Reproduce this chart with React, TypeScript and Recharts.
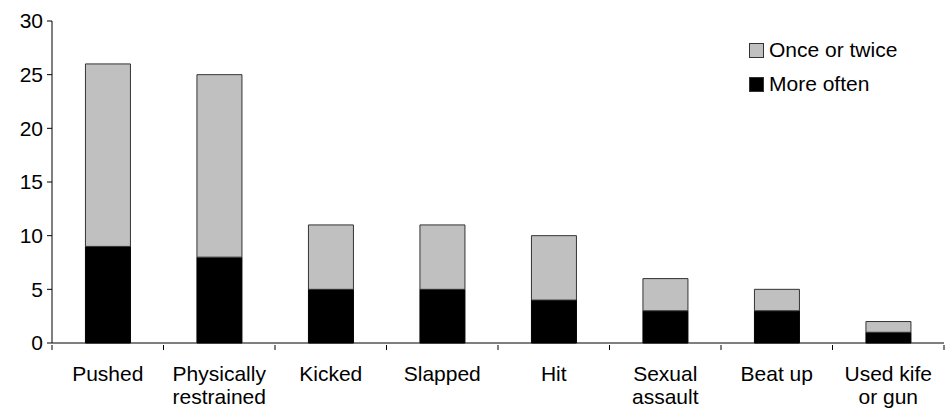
import React from "react";
import { BarChart, Bar, XAxis, YAxis } from "recharts";

const categories = [
  "Pushed",
  "Physically restrained",
  "Kicked",
  "Slapped",
  "Hit",
  "Sexual assault",
  "Beat up",
  "Used kife or gun",
];
const tickLabelLines = [
  ["Pushed"],
  ["Physically", "restrained"],
  ["Kicked"],
  ["Slapped"],
  ["Hit"],
  ["Sexual", "assault"],
  ["Beat up"],
  ["Used kife", "or gun"],
];
const moreOften = [9, 8, 5, 5, 4, 3, 3, 1];
const onceOrTwice = [17, 17, 6, 6, 6, 3, 2, 1];
const yTicks = [0, 5, 10, 15, 20, 25, 30];

const data = categories.map((name, i) => ({
  name,
  more: moreOften[i],
  once: onceOrTwice[i],
}));

const FONT = "Liberation Sans, Arial, sans-serif";

function CategoryTick(props: any) {
  const { x, y, payload } = props;
  const half = payload.offset || 0;
  const lines = tickLabelLines[payload.index] || [payload.value];
  return (
    <g>
      {payload.index === 0 && (
        <line x1={x - half} x2={x - half} y1={y} y2={y + 5} stroke="#000" />
      )}
      <line x1={x + half} x2={x + half} y1={y} y2={y + 5} stroke="#000" />
      <text
        x={x}
        y={y + 36}
        textAnchor="middle"
        fontSize={21}
        fontFamily={FONT}
        fill="#000"
      >
        {lines.map((l: string, i: number) => (
          <tspan key={i} x={x} dy={i === 0 ? 0 : 23}>
            {l}
          </tspan>
        ))}
      </text>
    </g>
  );
}

function LegendBox() {
  const items = [
    { label: "Once or twice", color: "#c0c0c0" },
    { label: "More often", color: "#000" },
  ];
  return (
    <div
      style={{
        position: "absolute",
        left: 749,
        top: 33,
        fontFamily: FONT,
        fontSize: 21,
        color: "#000",
      }}
    >
      {items.map((it) => (
        <div
          key={it.label}
          style={{ display: "flex", alignItems: "center", height: 34 }}
        >
          <span
            style={{
              display: "inline-block",
              width: 13,
              height: 13,
              background: it.color,
              border: "1px solid #333",
              marginRight: 5,
            }}
          />
          {it.label}
        </div>
      ))}
    </div>
  );
}

export default function App() {
  return (
    <div style={{ position: "absolute", left: 0, top: 0, width: 950, height: 410 }}>
      <BarChart
        width={950}
        height={410}
        data={data}
        margin={{ top: 21, right: 6, bottom: 0, left: 0 }}
        barCategoryGap="30%"
      >
        <XAxis
          dataKey="name"
          interval={0}
          tickLine={false}
          tickSize={0}
          axisLine={{ stroke: "#000" }}
          tick={<CategoryTick />}
          height={67}
        />
        <YAxis
          width={52}
          domain={[0, 30]}
          ticks={yTicks}
          interval={0}
          tickSize={5}
          tickMargin={4}
          axisLine={{ stroke: "#000" }}
          tickLine={{ stroke: "#000" }}
          tick={{ fill: "#000", fontSize: 21, fontFamily: FONT }}
        />
        <Bar
          dataKey="more"
          stackId="a"
          fill="#000"
          stroke="#000"
          isAnimationActive={false}
        />
        <Bar
          dataKey="once"
          stackId="a"
          fill="#c0c0c0"
          stroke="#333"
          strokeWidth={1}
          isAnimationActive={false}
        />
      </BarChart>
      <LegendBox />
    </div>
  );
}
